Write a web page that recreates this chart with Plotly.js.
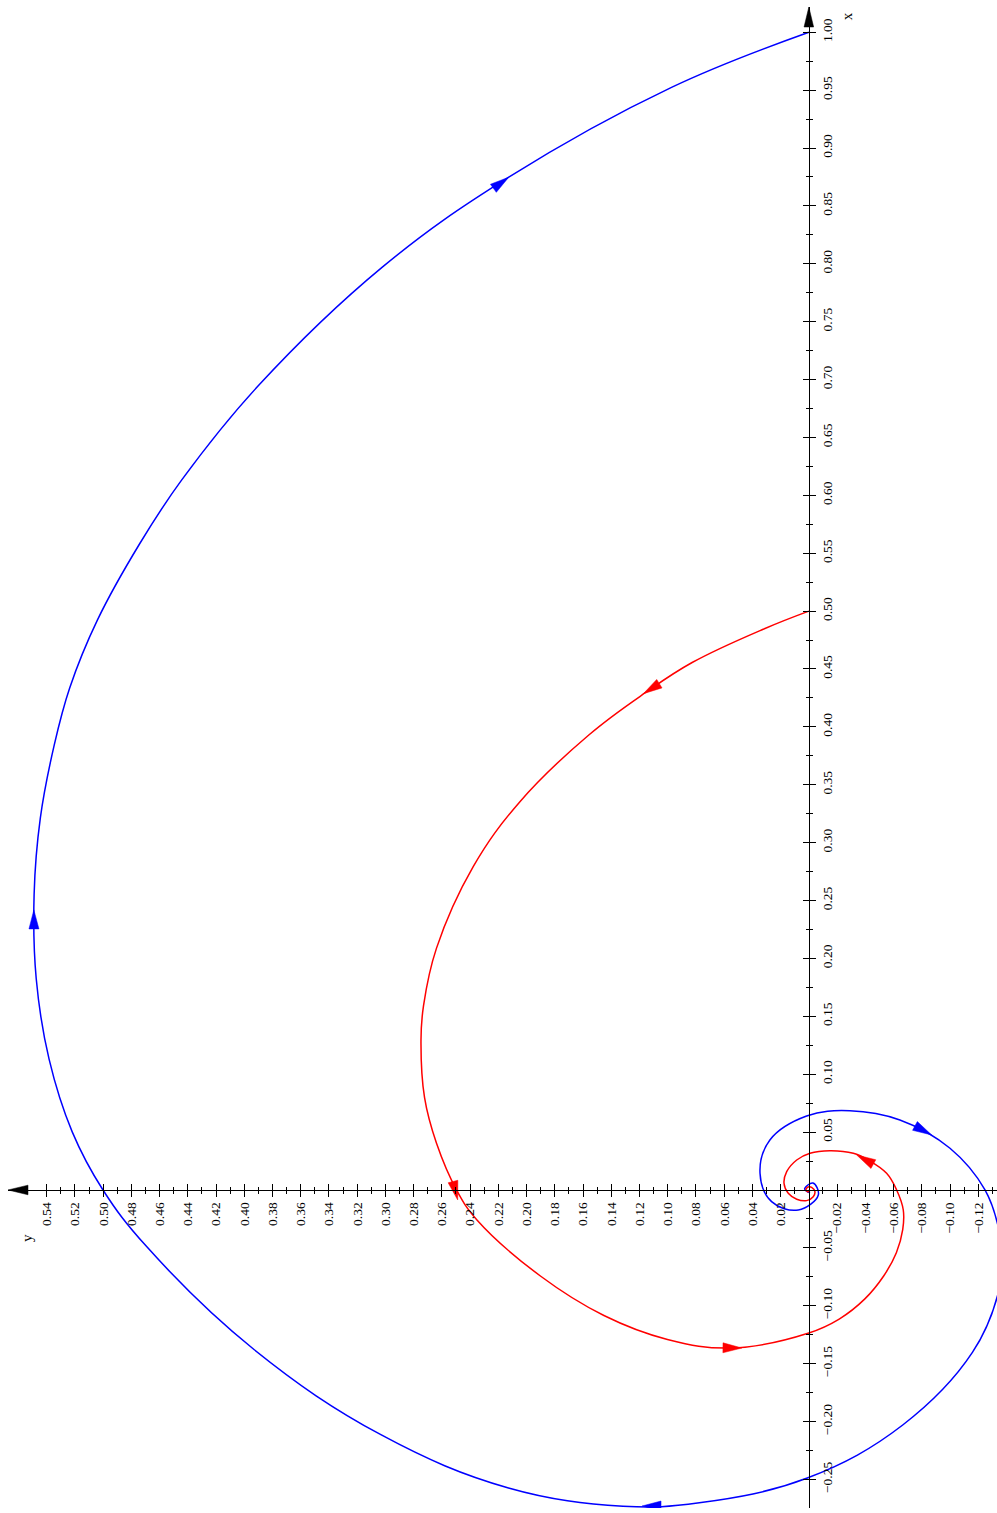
<!DOCTYPE html>
<html>
<head>
<meta charset="utf-8">
<script src="https://cdn.plot.ly/plotly-3.0.1.min.js"></script>
<style>
html,body{margin:0;padding:0;background:#fff;}
#chart{width:997px;height:1513px;}
</style>
</head>
<body>
<div id="chart"></div>
<script>
// ---- Data (x = data x, y = data y) ----
const blueX = [1.0000,0.9524,0.8748,0.7971,0.6946,0.6133,0.5586,0.4924,0.4336,0.3840,0.3212,0.2552,0.1824,0.1130,0.0502,0.0000,-0.0485,-0.1380,-0.2116,-0.2574,-0.2731,-0.2702,-0.2488,-0.2030,-0.1401,-0.0864,-0.0570,-0.0363,0.0000,0.0360,0.0605,0.0685,0.0639,0.0432,0.0144,-0.0101,-0.0173,-0.0043,0.0060,0.0009,-0.0022,0.0];
const blueY = [0.0000,0.0973,0.2126,0.3022,0.3901,0.4443,0.4739,0.5040,0.5237,0.5347,0.5445,0.5489,0.5474,0.5383,0.5219,0.5001,0.4695,0.3929,0.3029,0.2128,0.1317,0.0776,0.0011,-0.0665,-0.1160,-0.1347,-0.1364,-0.1350,-0.1248,-0.1000,-0.0645,-0.0291,0.0016,0.0276,0.0346,0.0264,0.0075,-0.0067,-0.0029,0.0030,-0.0004,0.0];

const redX = [0.5000,0.4848,0.4556,0.4297,0.3930,0.3354,0.2793,0.2089,0.1593,0.1296,0.0799,0.0403,-0.0010,-0.0257,-0.0743,-0.1084,-0.1291,-0.1365,-0.1235,-0.1115,-0.0943,-0.0743,-0.0542,-0.0343,-0.0173,0.0000,0.0144,0.0259,0.0317,0.0339,0.0317,0.0259,0.0158,0.0058,-0.0029,-0.0080,-0.0092,-0.0058,-0.0015,0.0023,0.0026,0.0000,-0.0017,0.0];
const redY = [0.0000,0.0315,0.0827,0.1156,0.1559,0.2047,0.2378,0.2638,0.2730,0.2748,0.2723,0.2638,0.2492,0.2353,0.1902,0.1452,0.1002,0.0551,0.0000,-0.0215,-0.0395,-0.0530,-0.0620,-0.0665,-0.0669,-0.0622,-0.0551,-0.0421,-0.0315,-0.0149,-0.0008,0.0086,0.0157,0.0176,0.0146,0.0086,0.0016,-0.0031,-0.0043,-0.0020,0.0006,0.0021,0.0006,0.0];

// Direction arrows on the curves: tip and a point just behind it on the curve
const blueArrowTipX  = [0.8748, 0.2419, -0.2730, 0.0475];
const blueArrowTipY  = [0.2126, 0.5491, 0.1182, -0.0870];
const blueArrowTailX = [0.8630, 0.2237, -0.2730, 0.0561];
const blueArrowTailY = [0.2260, 0.5490, 0.1048, -0.0740];
const redArrowTipX   = [0.4286, -0.0086, -0.1365, 0.0302];
const redArrowTipY   = [0.1173, 0.2488, 0.0474, -0.0339];
const redArrowTailX  = [0.4385, 0.0086, -0.1363, 0.0216];
const redArrowTailY  = [0.1044, 0.2524, 0.0619, -0.0468];

// Axis ticks
const xTickVals = [-0.25,-0.20,-0.15,-0.10,-0.05,0.05,0.10,0.15,0.20,0.25,0.30,0.35,0.40,0.45,0.50,0.55,0.60,0.65,0.70,0.75,0.80,0.85,0.90,0.95,1.00];
const xTickText = ['\u22120.25','\u22120.20','\u22120.15','\u22120.10','\u22120.05','0.05','0.10','0.15','0.20','0.25','0.30','0.35','0.40','0.45','0.50','0.55','0.60','0.65','0.70','0.75','0.80','0.85','0.90','0.95','1.00'];
const xMinorVals = [-0.225,-0.175,-0.125,-0.075,-0.025,0.025,0.075,0.125,0.175,0.225,0.275,0.325,0.375,0.425,0.475,0.525,0.575,0.625,0.675,0.725,0.775,0.825,0.875,0.925,0.975];
const yTickVals = [0.54,0.52,0.50,0.48,0.46,0.44,0.42,0.40,0.38,0.36,0.34,0.32,0.30,0.28,0.26,0.24,0.22,0.20,0.18,0.16,0.14,0.12,0.10,0.08,0.06,0.04,0.02,-0.02,-0.04,-0.06,-0.08,-0.10,-0.12];
const yTickText = ['0.54','0.52','0.50','0.48','0.46','0.44','0.42','0.40','0.38','0.36','0.34','0.32','0.30','0.28','0.26','0.24','0.22','0.20','0.18','0.16','0.14','0.12','0.10','0.08','0.06','0.04','0.02','\u22120.02','\u22120.04','\u22120.06','\u22120.08','\u22120.10','\u22120.12'];
const yMinorVals = [0.53,0.51,0.49,0.47,0.45,0.43,0.41,0.39,0.37,0.35,0.33,0.31,0.29,0.27,0.25,0.23,0.21,0.19,0.17,0.15,0.13,0.11,0.09,0.07,0.05,0.03,0.01,-0.01,-0.03,-0.05,-0.07,-0.09,-0.11,-0.13];

// Axis ranges: data x runs up the page, data y runs to the left
const xRange = [-0.2747, 1.0218];
const yRange = [0.5674, -0.1333];

// ---- Layout geometry ----
const W = 997, H = 1513;
const M = {l: 8, r: 0, t: 7, b: 5};
const plotW = W - M.l - M.r, plotH = H - M.t - M.b;
const kH = plotW / (yRange[0] - yRange[1]); // px per unit of data y (horizontal)
const kV = plotH / (xRange[1] - xRange[0]); // px per unit of data x (vertical)
const posHoriz = (0 - xRange[0]) / (xRange[1] - xRange[0]);
const posVert = (yRange[0] - 0) / (yRange[0] - yRange[1]);

function heads(tipX, tipY, tailX, tailY, L, hw) {
  const px = [], py = [];
  for (let i = 0; i < tipX.length; i++) {
    let vx = -(tipY[i] - tailY[i]) * kH;
    let vy = -(tipX[i] - tailX[i]) * kV;
    const n = Math.hypot(vx, vy); vx /= n; vy /= n;
    const bx = -L * vx, by = -L * vy;
    const c1 = [bx - hw * vy, by + hw * vx];
    const c2 = [bx + hw * vy, by - hw * vx];
    const dY = s => tipY[i] - s / kH;
    const dX = s => tipX[i] - s / kV;
    px.push(tipY[i], dY(c1[0]), dY(c2[0]), tipY[i], null);
    py.push(tipX[i], dX(c1[1]), dX(c2[1]), tipX[i], null);
  }
  return {px, py};
}

const bh = heads(blueArrowTipX, blueArrowTipY, blueArrowTailX, blueArrowTailY, 19, 5);
const rh = heads(redArrowTipX, redArrowTipY, redArrowTailX, redArrowTailY, 19, 5);
const ah = heads([xRange[1], 0], [0, yRange[0]], [0, 0], [0, 0], 20, 4.8);

const FONT = '"Liberation Serif", "Times New Roman", serif';

const traces = [
  {x: blueY, y: blueX, type: 'scatter', mode: 'lines',
   line: {color: '#0000ff', width: 1.5, shape: 'spline', smoothing: 1.1}},
  {x: redY, y: redX, type: 'scatter', mode: 'lines',
   line: {color: '#ff0000', width: 1.5, shape: 'spline', smoothing: 1.1}},
  {x: bh.px, y: bh.py, type: 'scatter', mode: 'lines', fill: 'toself',
   fillcolor: '#0000ff', line: {color: '#0000ff', width: 0.5}, connectgaps: false},
  {x: rh.px, y: rh.py, type: 'scatter', mode: 'lines', fill: 'toself',
   fillcolor: '#ff0000', line: {color: '#ff0000', width: 0.5}, connectgaps: false},
  {x: ah.px, y: ah.py, type: 'scatter', mode: 'lines', fill: 'toself',
   fillcolor: '#000000', line: {color: '#000000', width: 0.5}, connectgaps: false},
  {x: [null], y: [null], xaxis: 'x2', yaxis: 'y2', type: 'scatter', mode: 'lines'}
];

function axisCommon(range, pos, side, vals, text, minorVals, tickDir, labels) {
  return {
    range: range, anchor: 'free', position: pos, side: side,
    showgrid: false, zeroline: false,
    showline: labels, linecolor: '#000', linewidth: 1,
    ticks: tickDir, ticklen: 6, tickwidth: 1, tickcolor: '#000',
    tickmode: 'array', tickvals: vals, ticktext: text, tickangle: -90,
    showticklabels: labels,
    tickfont: {family: FONT, size: 13.5, color: '#000'},
    minor: {tickmode: 'array', tickvals: minorVals, ticks: tickDir, ticklen: 3,
            tickwidth: 1, tickcolor: '#000', showgrid: false},
    fixedrange: true
  };
}

const layout = {
  width: W, height: H,
  margin: {l: M.l, r: M.r, t: M.t, b: M.b, pad: 0},
  paper_bgcolor: '#ffffff', plot_bgcolor: '#ffffff',
  showlegend: false, hovermode: false,
  xaxis: axisCommon(yRange, posHoriz, 'bottom', yTickVals, yTickText, yMinorVals, 'outside', true),
  yaxis: axisCommon(xRange, posVert, 'right', xTickVals, xTickText, xMinorVals, 'outside', true),
  xaxis2: Object.assign(axisCommon(yRange, posHoriz, 'bottom', yTickVals, yTickText, yMinorVals, 'inside', false), {overlaying: 'x'}),
  yaxis2: Object.assign(axisCommon(xRange, posVert, 'right', xTickVals, xTickText, xMinorVals, 'inside', false), {overlaying: 'y'}),
  annotations: [
    {x: -0.0268, y: 1.0135, xref: 'x', yref: 'y', text: 'x', textangle: -90, showarrow: false,
     font: {family: FONT, size: 15, color: '#000'}},
    {x: 0.5539, y: -0.0415, xref: 'x', yref: 'y', text: 'y', textangle: -90, showarrow: false,
     font: {family: FONT, size: 15, color: '#000'}}
  ]
};

Plotly.newPlot('chart', traces, layout, {staticPlot: true, displayModeBar: false});
</script>
</body>
</html>
